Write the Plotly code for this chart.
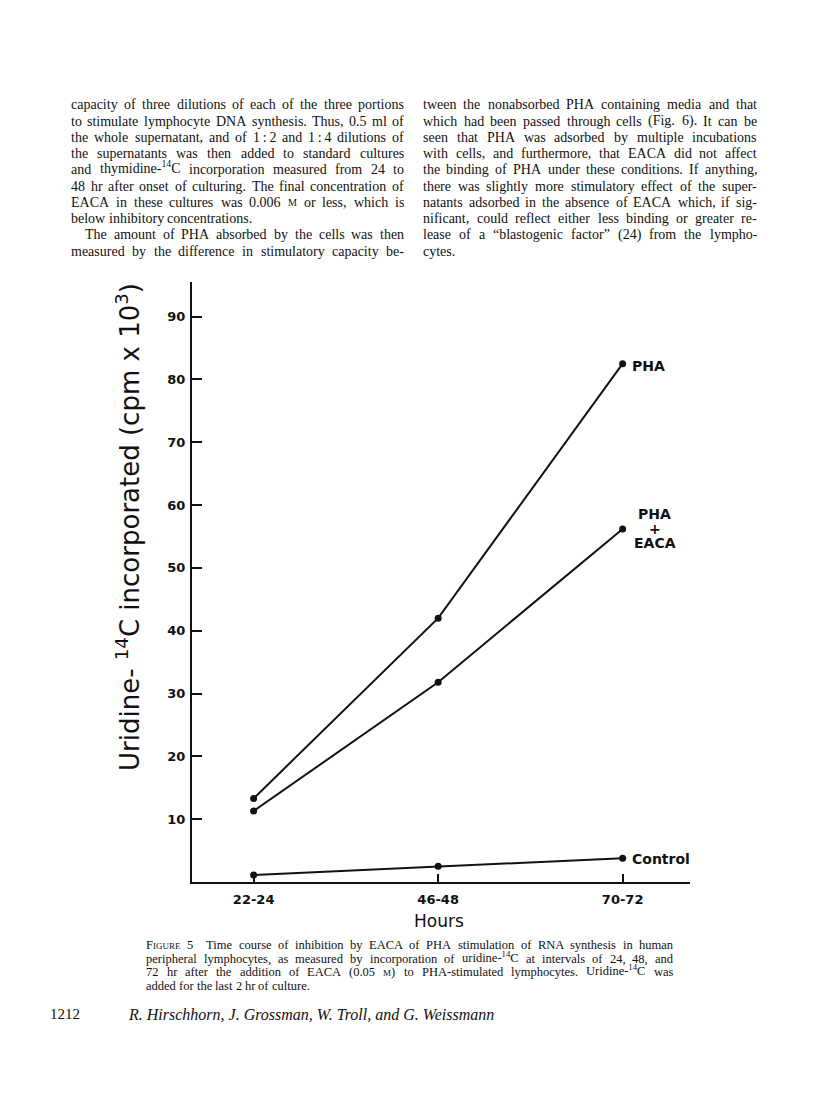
import re
import plotly.graph_objects as go

W, H = 816, 1100

# data
hours = ["22-24", "46-48", "70-72"]
pha = [13.3, 42.0, 82.5]
pha_eaca = [11.3, 31.8, 56.2]
control = [1.1, 2.5, 3.8]
y_ticks = [10, 20, 30, 40, 50, 60, 70, 80, 90]

BODY = 14
CAP = 12.5


def small_caps(s, size):
    return "<span style='font-size:%.1fpx'>%s</span>" % (size * 0.72, s)


left_col = [
    "capacity of three dilutions of each of the three portions",
    "to stimulate lymphocyte DNA synthesis. Thus, 0.5 ml of",
    "the whole supernatant, and of 1\u2009:\u20092 and 1\u2009:\u20094 dilutions of",
    "the supernatants was then added to standard cultures",
    "and thymidine-<sup>14</sup>C incorporation measured from 24 to",
    "48 hr after onset of culturing. The final concentration of",
    "EACA in these cultures was 0.006 " + small_caps("M", BODY) + " or less, which is",
    "below inhibitory concentrations.",
    "The amount of PHA absorbed by the cells was then",
    "measured by the difference in stimulatory capacity be-",
]
right_col = [
    "tween the nonabsorbed PHA containing media and that",
    "which had been passed through cells (Fig. 6). It can be",
    "seen that PHA was adsorbed by multiple incubations",
    "with cells, and furthermore, that EACA did not affect",
    "the binding of PHA under these conditions. If anything,",
    "there was slightly more stimulatory effect of the super-",
    "natants adsorbed in the absence of EACA which, if sig-",
    "nificant, could reflect either less binding or greater re-",
    "lease of a \u201cblastogenic factor\u201d (24) from the lympho-",
    "cytes.",
]
caption = [
    "F" + small_caps("IGURE", CAP) + " 5\u2002 Time course of inhibition by EACA of PHA stimulation of RNA synthesis in human",
    "peripheral lymphocytes, as measured by incorporation of uridine-<sup>14</sup>C at intervals of 24, 48, and",
    "72 hr after the addition of EACA (0.05 " + small_caps("M", CAP) + ") to PHA-stimulated lymphocytes. Uridine-<sup>14</sup>C was",
    "added for the last 2 hr of culture.",
]
authors = "R. Hirschhorn, J. Grossman, W. Troll, and G. Weissmann"
page_no = "1212"

# Times / Liberation Serif advance widths (per 1000 em), used to justify the text
_w = {" ": 250, "\u2009": 167, "\u2002": 500, ".": 250, ",": 250, ":": 278, ";": 278, "-": 333,
      "(": 333, ")": 333, "\u201c": 444, "\u201d": 444, "'": 333}
for c in "0123456789":
    _w[c] = 500
for c, v in zip("abcdefghijklmnopqrstuvwxyz",
                [444, 500, 444, 500, 444, 333, 500, 500, 278, 278, 500, 278, 778,
                 500, 500, 500, 500, 333, 389, 278, 500, 500, 722, 500, 500, 444]):
    _w[c] = v
for c, v in zip("ABCDEFGHIJKLMNOPQRSTUVWXYZ",
                [722, 667, 667, 722, 611, 556, 722, 722, 333, 389, 722, 611, 889,
                 722, 722, 556, 722, 667, 556, 611, 722, 722, 944, 722, 722, 611]):
    _w[c] = v


def text_width(s, size):
    total = 0.0
    for part in re.split(r"(<sup>.*?</sup>|<span[^>]*>.*?</span>)", s):
        if part.startswith("<sup>"):
            inner, sz = part[5:-6], size * 0.7
        elif part.startswith("<span"):
            inner, sz = re.sub(r"<[^>]+>", "", part), size * 0.72
        else:
            inner, sz = part, size
        total += sum(_w.get(c, 500) for c in inner) / 1000 * sz
    return total


def px(x):
    return x / W


def py(y):
    return 1 - y / H


INK = "#111111"
SANS = "DejaVu Sans"
SERIF = "Liberation Serif"

ann = []


def set_line(x0, x1, y, text, size, justify=True):
    # split on plain spaces that are not inside a tag
    words = [w for w in re.split(r" (?![^<]*>)", text) if w]
    widths = [text_width(w, size) for w in words]
    gap = _w[" "] / 1000 * size
    if justify and len(words) > 1:
        gap = max(gap * 0.6, (x1 - x0 - sum(widths)) / (len(words) - 1))
    x = x0
    for w, wd in zip(words, widths):
        # a superscript makes the box taller, so lift the word back onto the baseline
        lift = round(size * 0.17) if "<sup>" in w else 0
        ann.append(dict(x=px(x), y=py(y), xref="paper", yref="paper", text=w,
                        xanchor="left", yanchor="middle", showarrow=False,
                        borderpad=0, borderwidth=0, yshift=lift,
                        font=dict(family=SERIF, size=size, color=INK)))
        x += wd + gap


fig = go.Figure()

for name, vals in [("PHA", pha), ("PHA + EACA", pha_eaca), ("Control", control)]:
    fig.add_trace(go.Scatter(
        x=[0, 1, 2], y=vals, name=name, mode="lines+markers",
        line=dict(color=INK, width=2),
        marker=dict(color=INK, size=7),
        showlegend=False, cliponaxis=False,
    ))

lab_font = dict(family=SANS, size=14, color=INK)

# series labels at line ends
ann.append(dict(x=2, y=pha[-1], xref="x", yref="y", text="<b>PHA</b>",
                xanchor="left", yanchor="middle", xshift=7, yshift=-2, showarrow=False,
                font=lab_font))
for t, dy in [("<b>PHA</b>", 15), ("<b>+</b>", 0), ("<b>EACA</b>", -14)]:
    ann.append(dict(x=2, y=pha_eaca[-1], xref="x", yref="y", text=t,
                    xanchor="center", yanchor="middle", xshift=32, yshift=dy,
                    showarrow=False, font=lab_font))
ann.append(dict(x=2, y=control[-1], xref="x", yref="y", text="<b>Control</b>",
                xanchor="left", yanchor="middle", xshift=7, yshift=-1, showarrow=False,
                font=lab_font))

# axis titles
ann.append(dict(x=px(431), y=py(913), xref="paper", yref="paper", text="Hours",
                xanchor="center", yanchor="middle", showarrow=False,
                font=dict(family=SANS, size=17, color=INK)))
ann.append(dict(x=px(120), y=py(519), xref="paper", yref="paper",
                text="Uridine- <sup>14</sup>C incorporated (cpm x 10<sup>3</sup>)",
                textangle=-90, xanchor="center", yanchor="middle", showarrow=False,
                font=dict(family=SANS, size=26, color=INK)))

# body text, two justified columns
line_y = [97, 113, 129, 145, 161, 178, 194, 210, 227, 243]
for i, (t, y) in enumerate(zip(left_col, line_y)):
    set_line(77 if i == 8 else 63, 396, y, t, BODY, justify=(i != 7))
for i, (t, y) in enumerate(zip(right_col, line_y)):
    set_line(415, 749, y, t, BODY, justify=(i != 9))

# figure caption
for i, (t, y) in enumerate(zip(caption, [937, 950.5, 964, 977.5])):
    set_line(138, 665, y, t, CAP, justify=(i != 3))

# running footer
ann.append(dict(x=px(40), y=py(1006), xref="paper", yref="paper", text=page_no,
                xanchor="left", yanchor="middle", showarrow=False,
                font=dict(family=SERIF, size=15, color=INK)))
ann.append(dict(x=px(118), y=py(1006), xref="paper", yref="paper", text="<i>" + authors + "</i>",
                xanchor="left", yanchor="middle", showarrow=False,
                font=dict(family=SERIF, size=16, color=INK)))

fig.update_layout(
    width=W, height=H,
    margin=dict(l=0, r=0, t=0, b=0),
    paper_bgcolor="white", plot_bgcolor="white",
    annotations=ann,
    xaxis=dict(
        domain=[px(184), px(682)],
        range=[-0.334, 2.365],
        tickmode="array", tickvals=[0, 1, 2], ticktext=hours,
        ticks="inside", ticklen=8, tickwidth=2, tickcolor=INK,
        showline=True, linewidth=2, linecolor=INK,
        showgrid=False, zeroline=False,
        tickfont=dict(family=SANS, size=13, color=INK, weight="bold"),
        ticklabelstandoff=4,
    ),
    yaxis=dict(
        domain=[py(874), py(274)],
        range=[0, 95.5],
        tickmode="array", tickvals=y_ticks,
        ticks="inside", ticklen=10, tickwidth=2, tickcolor=INK,
        showline=True, linewidth=2, linecolor=INK,
        showgrid=False, zeroline=False,
        tickfont=dict(family=SANS, size=13, color=INK, weight="bold"),
        ticklabelstandoff=2,
    ),
)

fig.write_html("out.html")
